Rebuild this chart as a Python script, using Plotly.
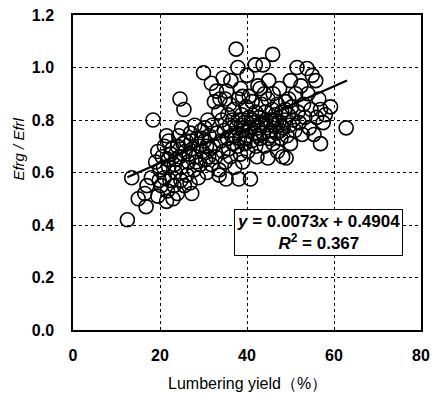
import plotly.graph_objects as go

# Scatter data (Lumbering yield %, Efrg/Efrl)
x_vals = [
    12.5, 13.5, 15, 16.5, 16.8, 17, 18, 18.4, 19, 19.5, 19.8, 20, 20.5, 20.3, 21, 21.5, 21.7, 21, 21.5, 22, 22.3, 22.5, 22,
    23, 23.2, 23.5, 23.7, 24, 24, 24.3, 24.6, 24.8, 25, 25, 25.5, 25.6, 25.8, 26, 26.2, 26.5, 26.9, 27, 27.3, 27.5, 27.8,
    28, 28.2, 28.5, 28.8, 29, 29.2, 29.5, 29.8, 30, 30.2, 30.5, 30.8, 31, 31.3, 31.5, 31.8, 31.8, 32,
    32.5, 33, 33.5, 34.5, 35, 36.3, 36, 37.5, 37.9, 38.5, 39, 40, 41.9, 43.7, 45.9, 42.5, 44, 45,
    32.3, 32.8, 33, 33.6, 33.6, 34, 34.2, 34.5, 34.8, 35, 35.2, 35.5, 35.6, 35.8, 36, 36.2, 36.5, 36.8, 37, 37.2,
    37.5, 37.8, 38, 38.1, 38.3, 38.5, 38.8, 39, 39, 39.3, 39.5, 39.8, 40, 40.2, 40.5, 40.8, 40.8, 41, 41.2, 41.5, 41.8, 42, 42, 42.3,
    42.5, 42.8, 43, 43.3, 43.5, 43.8, 44, 44.2, 44.5, 44.8, 44.8, 45, 45.2, 45.5, 45.8, 46, 46.2, 46.5, 46.8, 47, 47,
    47.3, 47.5, 47.8, 48, 48.2, 48.3, 48.6, 48.9, 49, 49.2, 49.5, 49.8, 50, 50, 50.3, 50.6, 51, 51.2, 51.5, 51.7,
    52, 52.4, 52.7, 53, 53.3, 53.8, 54, 54.3, 54.7, 55, 55.4, 55.8, 56, 56.5, 56.9, 56.9, 57.5, 58, 59.2, 62.8,
    22.8, 23.3, 24.5, 25.3, 26.7, 27.2, 28.3, 29.6, 30.3, 30.7, 31.2, 19.5, 20.8, 21.8,
    36.7, 37.3, 38.7, 39.7, 40.3, 41.3, 42.7, 43.2, 44.3, 45.3, 46.3, 47.7, 48.8, 49.6, 46, 43, 40.5, 38, 35.3, 33.8,
]
y_vals = [
    0.42, 0.58, 0.50, 0.52, 0.47, 0.55, 0.58, 0.80, 0.64, 0.51, 0.57, 0.61, 0.66, 0.55, 0.58, 0.49, 0.53, 0.70, 0.74, 0.62, 0.57, 0.67, 0.72,
    0.50, 0.55, 0.60, 0.65, 0.52, 0.70, 0.74, 0.88, 0.57, 0.62, 0.77, 0.84, 0.55, 0.68, 0.72, 0.59, 0.64, 0.56, 0.75, 0.52, 0.69, 0.61,
    0.78, 0.66, 0.73, 0.58, 0.70, 0.63, 0.76, 0.68, 0.98, 0.72, 0.65, 0.60, 0.80, 0.74, 0.69, 0.94, 0.63, 0.78,
    0.87, 0.91, 0.83, 0.96, 0.88, 0.95, 0.86, 1.07, 1.00, 0.92, 0.89, 0.97, 1.01, 1.01, 1.05, 0.93, 0.90, 0.95,
    0.70, 0.66, 0.75, 0.61, 0.59, 0.72, 0.80, 0.68, 0.76, 0.64, 0.575, 0.73, 0.82, 0.69, 0.78, 0.66, 0.74, 0.71, 0.84, 0.62,
    0.77, 0.70, 0.80, 0.575, 0.73, 0.67, 0.82, 0.64, 0.76, 0.79, 0.71, 0.85, 0.74, 0.68, 0.81, 0.575, 0.77, 0.72, 0.87, 0.79, 0.75, 0.83, 0.70, 0.66,
    0.77, 0.81, 0.73, 0.86, 0.79, 0.75, 0.70, 0.83, 0.77, 0.655, 0.88, 0.73, 0.80, 0.76, 0.84, 0.71, 0.78, 0.82, 0.75, 0.86, 0.68,
    0.79, 0.92, 0.73, 0.83, 0.66, 0.77, 0.80, 0.87, 0.655, 0.74, 0.82, 0.78, 0.95, 0.71, 0.85, 0.80, 0.76, 0.90, 1.00, 0.83,
    0.79, 0.93, 0.745, 0.86, 0.81, 0.996, 0.90, 0.77, 0.84, 0.97, 0.745, 0.95, 0.81, 0.88, 0.71, 0.84, 0.79, 0.82, 0.85, 0.77,
    0.69, 0.63, 0.66, 0.71, 0.67, 0.72, 0.64, 0.73, 0.77, 0.70, 0.66, 0.68, 0.62, 0.65,
    0.80, 0.74, 0.78, 0.73, 0.76, 0.80, 0.74, 0.78, 0.80, 0.74, 0.80, 0.76, 0.84, 0.88, 0.90, 0.92, 0.89, 0.88, 0.91, 0.88,
]

# Regression
slope = 0.0073
intercept = 0.4904
line_x = [12.5, 63.0]
line_y = [slope * v + intercept for v in line_x]

x_ticks = [0, 20, 40, 60, 80]
y_ticks = [0.0, 0.2, 0.4, 0.6, 0.8, 1.0, 1.2]
y_tick_text = ["0.0", "0.2", "0.4", "0.6", "0.8", "1.0", "1.2"]

FONT = "Liberation Sans, Arial, sans-serif"

fig = go.Figure()
fig.add_trace(go.Scatter(
    x=x_vals, y=y_vals, mode="markers",
    marker=dict(symbol="circle-open", size=14, color="black", line=dict(width=1.6, color="black")),
    showlegend=False, hoverinfo="skip",
))
fig.add_trace(go.Scatter(
    x=line_x, y=line_y, mode="lines",
    line=dict(color="black", width=2.2), showlegend=False, hoverinfo="skip",
))

tick_font = dict(family=FONT, size=16, color="black")
fig.update_layout(
    width=437, height=393,
    margin=dict(l=73, r=7, t=13, b=63),
    paper_bgcolor="white", plot_bgcolor="white",
    font=dict(family=FONT, color="black"),
    xaxis=dict(
        range=[0, 80], tickvals=x_ticks, ticktext=[f"<b>{v}</b>" for v in x_ticks],
        tickfont=tick_font, showline=True, linecolor="black", linewidth=1.5, mirror=True,
        showgrid=True, gridcolor="black", griddash="dot", gridwidth=1,
        ticks="", ticklabelstandoff=10, zeroline=False,
    ),
    yaxis=dict(
        range=[0, 1.2], tickvals=y_ticks, ticktext=[f"<b>{t}</b>" for t in y_tick_text],
        tickfont=tick_font, showline=True, linecolor="black", linewidth=1.5, mirror=True,
        showgrid=True, gridcolor="black", griddash="dot", gridwidth=1,
        ticks="", ticklabelstandoff=14, zeroline=False,
    ),
    annotations=[
        dict(
            x=56.5, y=0.371, xref="x", yref="y",
            text="<b><i>y</i> = 0.0073<i>x</i> + 0.4904<br><i>R</i><sup>2</sup> = 0.367</b>",
            showarrow=False, align="center",
            font=dict(size=17, family=FONT, color="black"),
            bordercolor="black", borderwidth=1, bgcolor="white", borderpad=2,
        ),
        dict(
            x=(17 - 73) / 357, y=(330 - 148) / 317, xref="paper", yref="paper",
            text="<i>Efrg / Efrl</i>", textangle=-90, showarrow=False,
            font=dict(size=15, family=FONT, color="black"),
            xanchor="center", yanchor="middle",
        ),
        dict(
            x=(252 - 73) / 357, y=(330 - 384) / 317, xref="paper", yref="paper",
            text="Lumbering yield（%）", showarrow=False,
            font=dict(size=16, family=FONT, color="black"),
            xanchor="center", yanchor="middle",
        ),
    ],
)

fig.write_html("out.html")
